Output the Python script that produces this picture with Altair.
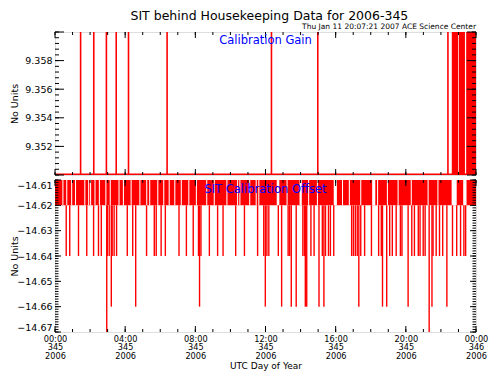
import altair as alt
import pandas as pd

# ---------------- data (hours after 00:00 UTC, day 345 of 2006) ----------------
gain_spike_hours = [1.46, 2.21, 2.93, 3.49, 4.19, 6.39, 12.34, 14.98, 22.40]
gain_block_start = [22.62, 23.02, 23.44]
gain_block_end = [22.98, 23.37, 24.00]
gain_low = 9.35005
gain_high = 9.3615

band_top = -14.61
band_bottom = -14.62
band_gap_start = [0.42, 0.64, 0.92, 1.14, 1.67, 1.89, 2.00, 2.25, 2.50, 2.87, 3.12, 3.62,
                  3.87, 4.31, 4.81, 5.20, 5.37, 5.83, 6.17, 6.48, 6.80, 7.17, 7.60, 8.03,
                  8.62, 9.05, 9.77, 10.38, 10.51, 11.07, 11.44, 11.59, 12.64, 13.20, 13.94,
                  14.43, 14.93, 15.89, 16.36, 16.75, 17.40, 18.08, 18.36, 18.92, 19.53,
                  20.28, 21.24, 21.80, 22.61, 23.27]
band_gap_end = [0.48, 0.70, 0.98, 1.20, 1.73, 1.95, 2.06, 2.31, 2.56, 2.93, 3.18, 3.68,
                3.93, 4.37, 4.87, 5.26, 5.43, 5.89, 6.23, 6.54, 6.86, 7.23, 7.66, 8.09,
                8.68, 9.11, 9.83, 10.44, 10.57, 11.13, 11.50, 11.65, 12.79, 13.26, 14.07,
                14.49, 14.99, 16.07, 16.42, 16.81, 17.46, 18.26, 18.42, 18.98, 19.59,
                20.34, 21.30, 21.86, 22.90, 23.46]

dip64_hours = [0.64, 0.84, 1.34, 1.81, 2.20, 2.48, 2.64, 2.98, 3.09, 3.26, 3.37, 3.51,
               4.12, 4.43, 5.22, 5.66, 5.77, 6.05, 6.29, 7.07, 7.49, 7.88, 8.18, 8.32,
               8.80, 9.27, 9.58, 10.30, 10.80, 11.55, 11.90, 12.08, 12.19, 12.73, 13.29,
               13.38, 14.13, 14.22, 14.59, 14.77, 15.24, 15.42, 15.59, 15.70, 15.89,
               16.91, 17.01, 17.12, 17.23, 17.43, 17.65, 18.04, 18.45, 18.60, 19.08,
               19.23, 19.45, 19.69, 19.78, 20.34, 20.49, 20.71, 20.81, 20.99, 21.10,
               21.55, 21.73, 21.92, 22.10, 22.66, 22.90, 23.12, 23.31, 23.41]
dip66_hours = [3.21, 4.60, 8.24, 11.99, 12.92, 13.47, 13.75, 14.27, 14.35, 15.05, 15.33,
               17.32, 18.67, 18.91, 20.13, 21.49, 22.34]
dip67_hours = [2.95, 21.33]

gain_ticks_major = [9.350, 9.352, 9.354, 9.356, 9.358, 9.360]
gain_labels = [9.352, 9.354, 9.356, 9.358]
offset_ticks_major = [-14.67, -14.66, -14.65, -14.64, -14.63, -14.62, -14.61]
hour_ticks_major = [0, 4, 8, 12, 16, 20, 24]

gain_ticks_minor = [round(9.350 + 0.0004 * i, 4) for i in range(26)]
offset_ticks_minor = [round(-14.67 + 0.001 * i, 3) for i in range(61)]
hour_ticks_minor = list(range(25))

W = 421
H_TOP = 143
H_BOT = 152
FONT = "DejaVu Sans"
RED = "#ff0000"

xs = alt.Scale(domain=[0, 24], nice=False, zero=False)
ys_gain = alt.Scale(domain=[9.350, 9.360], nice=False, zero=False)
ys_off = alt.Scale(domain=[-14.67, -14.61], nice=False, zero=False)


def ylab_axis(values, fmt, flush):
    return alt.Axis(values=values, format=fmt, title="No Units", titleX=-36,
                    titleFont=FONT, titleFontSize=9.5, titleFontWeight="normal",
                    titleColor="black", labelFont=FONT, labelFontSize=9.5,
                    labelColor="black", labelPadding=3, labelFlush=flush,
                    ticks=False, domain=False, grid=False)


x_axis = alt.Axis(
    values=hour_ticks_major,
    labelExpr="[datum.value == 24 ? '00:00' : (datum.value < 10 ? '0' : '') + datum.value + ':00', "
              "datum.value == 24 ? '346' : '345', '2006']",
    labelFont=FONT, labelFontSize=8.2, labelLineHeight=8.9, labelColor="black",
    labelPadding=3, labelBaseline="top", labelFlush=False,
    title="UTC Day of Year", titleFont=FONT, titleFontSize=9, titleFontWeight="normal",
    titleColor="black", titlePadding=1, ticks=False, domain=False, grid=False,
)

gain_axis = ylab_axis(gain_labels, ".3f", False)
off_axis = ylab_axis(offset_ticks_major, ".2f", True)


def yticks(vals, length, scale, yaxis, side):
    df = pd.DataFrame({"v": vals})
    if side == "left":
        xx, xx2 = alt.value(0), alt.value(length)
    else:
        xx, xx2 = alt.value(W - length), alt.value(W)
    return alt.Chart(df).mark_rule(color="black", strokeWidth=1).encode(
        y=alt.Y("v:Q", scale=scale, axis=yaxis), x=xx, x2=xx2)


def xticks(vals, length, H, xaxis, side):
    df = pd.DataFrame({"v": vals})
    if side == "bottom":
        yy, yy2 = alt.value(H - length), alt.value(H)
    else:
        yy, yy2 = alt.value(0), alt.value(length)
    return alt.Chart(df).mark_rule(color="black", strokeWidth=1).encode(
        x=alt.X("v:Q", scale=xs, axis=xaxis), y=yy, y2=yy2)


# ---------------- top panel: Calibration Gain ----------------
spikes_df = pd.DataFrame({"h": gain_spike_hours, "lo": gain_low, "hi": gain_high})
blocks_df = pd.DataFrame({"s": gain_block_start, "e": gain_block_end,
                          "lo": gain_low, "hi": gain_high})
base_df = pd.DataFrame({"s": [0], "e": [24], "v": [gain_low]})

gain_base = alt.Chart(base_df).mark_rule(color=RED, strokeWidth=1.5, clip=True).encode(
    x=alt.X("s:Q", scale=xs, axis=None), x2="e:Q",
    y=alt.Y("v:Q", scale=ys_gain, axis=gain_axis))
gain_spikes = alt.Chart(spikes_df).mark_rule(color=RED, strokeWidth=1.6, clip=True).encode(
    x=alt.X("h:Q", scale=xs, axis=None),
    y=alt.Y("lo:Q", scale=ys_gain, axis=gain_axis), y2="hi:Q")
gain_blocks = alt.Chart(blocks_df).mark_rect(color=RED, clip=True).encode(
    x=alt.X("s:Q", scale=xs, axis=None), x2="e:Q",
    y=alt.Y("lo:Q", scale=ys_gain, axis=gain_axis), y2="hi:Q")
gain_text = alt.Chart(pd.DataFrame({"t": ["Calibration Gain"]})).mark_text(
    color="#0000ff", font=FONT, fontSize=11.5, align="center", baseline="alphabetic"
).encode(x=alt.value(W / 2), y=alt.value(12), text="t:N")

top = alt.layer(
    gain_base, gain_spikes, gain_blocks,
    yticks(gain_ticks_major, 9, ys_gain, gain_axis, "left"),
    yticks(gain_ticks_minor, 4, ys_gain, gain_axis, "left"),
    yticks(gain_ticks_major, 9, ys_gain, gain_axis, "right"),
    yticks(gain_ticks_minor, 4, ys_gain, gain_axis, "right"),
    xticks(hour_ticks_major, 6, H_TOP, None, "bottom"),
    xticks(hour_ticks_minor, 3, H_TOP, None, "bottom"),
    xticks(hour_ticks_major, 6, H_TOP, None, "top"),
    xticks(hour_ticks_minor, 3, H_TOP, None, "top"),
    gain_text,
).properties(
    width=W, height=H_TOP,
    title=alt.TitleParams("Thu Jan 11 20:07:21 2007 ACE Science Center", anchor="end",
                          font=FONT, fontSize=7.5, fontWeight="normal", color="black",
                          offset=1, frame="group"),
)

# ---------------- bottom panel: SIT Calibration Offset ----------------
band_df = pd.DataFrame({"s": [0], "e": [24], "t": [band_top], "b": [band_bottom]})
gaps_df = pd.DataFrame({"s": band_gap_start, "e": band_gap_end,
                        "t": band_top, "b": band_bottom})
dips_df = pd.DataFrame({
    "h": dip64_hours + dip66_hours + dip67_hours,
    "v": [-14.64] * len(dip64_hours) + [-14.66] * len(dip66_hours) + [-14.67] * len(dip67_hours),
    "b": band_bottom,
})

band = alt.Chart(band_df).mark_rect(color=RED).encode(
    x=alt.X("s:Q", scale=xs, axis=x_axis), x2="e:Q",
    y=alt.Y("t:Q", scale=ys_off, axis=off_axis), y2="b:Q")
gaps = alt.Chart(gaps_df).mark_rect(color="white").encode(
    x=alt.X("s:Q", scale=xs, axis=x_axis), x2="e:Q",
    y=alt.Y("t:Q", scale=ys_off, axis=off_axis), y2="b:Q")
dips = alt.Chart(dips_df).mark_rule(color=RED, strokeWidth=1.4, clip=True).encode(
    x=alt.X("h:Q", scale=xs, axis=x_axis),
    y=alt.Y("b:Q", scale=ys_off, axis=off_axis), y2="v:Q")
off_text = alt.Chart(pd.DataFrame({"t": ["SIT Calibration Offset"]})).mark_text(
    color="#0000ff", font=FONT, fontSize=11.5, align="center", baseline="alphabetic"
).encode(x=alt.value(W / 2), y=alt.value(13), text="t:N")

bottom = alt.layer(
    band, gaps, dips,
    yticks(offset_ticks_major, 6, ys_off, off_axis, "left"),
    yticks(offset_ticks_minor, 3.5, ys_off, off_axis, "left"),
    yticks(offset_ticks_major, 6, ys_off, off_axis, "right"),
    yticks(offset_ticks_minor, 3.5, ys_off, off_axis, "right"),
    xticks(hour_ticks_major, 6, H_BOT, x_axis, "bottom"),
    xticks(hour_ticks_minor, 3, H_BOT, x_axis, "bottom"),
    xticks(hour_ticks_major, 6, H_BOT, x_axis, "top"),
    xticks(hour_ticks_minor, 3, H_BOT, x_axis, "top"),
    off_text,
).properties(width=W, height=H_BOT)

chart = alt.vconcat(top, bottom, spacing=3).properties(
    title=alt.TitleParams("SIT behind Housekeeping Data for 2006-345", anchor="middle",
                          font=FONT, fontSize=12.5, fontWeight="normal", color="black",
                          offset=0, dx=21),
    padding={"left": 0, "top": 2, "right": 0, "bottom": 0},
).configure_view(stroke="black", strokeWidth=1).configure(background="white")

chart.save("out.html", embed_options={"renderer": "svg", "actions": False})
